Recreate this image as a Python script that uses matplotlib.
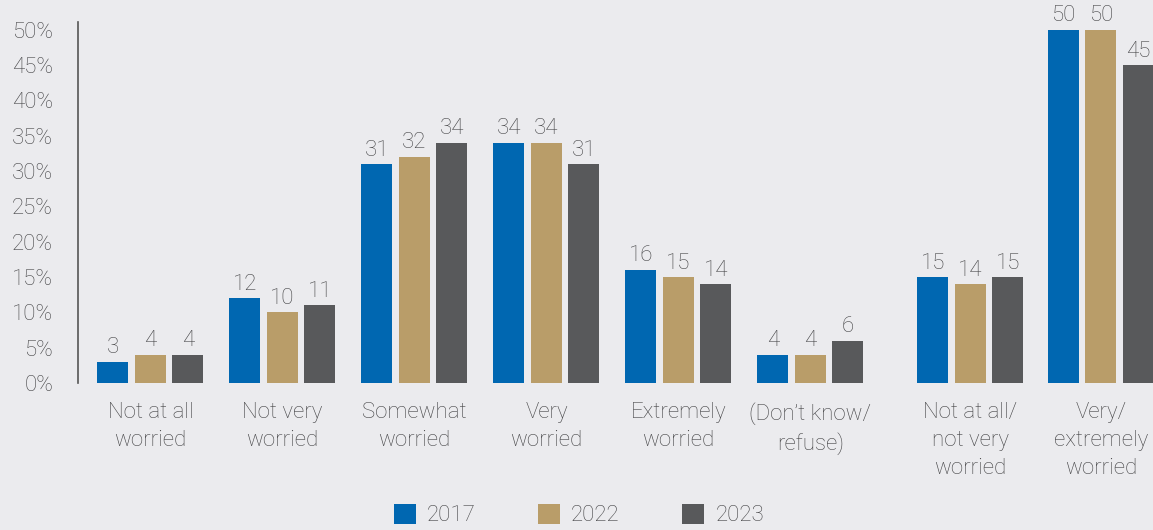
import matplotlib.pyplot as plt
import numpy as np

categories = [
    "Not at all\nworried",
    "Not very\nworried",
    "Somewhat\nworried",
    "Very\nworried",
    "Extremely\nworried",
    "(Don\u2019t know/\nrefuse)",
    "Not at all/\nnot very\nworried",
    "Very/\nextremely\nworried",
]
years = ["2017", "2022", "2023"]
vals_2017 = [3, 12, 31, 34, 16, 4, 15, 50]
vals_2022 = [4, 10, 32, 34, 15, 4, 14, 50]
vals_2023 = [4, 11, 34, 31, 14, 6, 15, 45]

COLORS = ["#0067b1", "#b99d69", "#58595b"]
BG = "#ebebee"
TEXT = "#444446"

plt.rcParams["font.family"] = ["Roboto", "DejaVu Sans"]
plt.rcParams["font.weight"] = "light"

# the two summary groups sit a little apart from the single answers
x = np.array([0, 1, 2, 3, 4, 5, 6.21, 7.2])
width = 0.235
step = 0.284

fig = plt.figure(figsize=(11.53, 5.30), dpi=100, facecolor=BG)
ax = fig.add_axes([78 / 1153, 0.2774, 1 - 78 / 1153, 0.9585 - 0.2774])
ax.set_facecolor(BG)

for i, (vals, col, yr) in enumerate(zip([vals_2017, vals_2022, vals_2023], COLORS, years)):
    bars = ax.bar(x + (i - 1) * step, vals, width, color=col, label=yr)
    ax.bar_label(bars, padding=2.5, fontsize=16, color=TEXT)

ax.set_xlim(-0.549, 7.595)
ax.set_ylim(0, 51.1)
ax.set_yticks(np.arange(0, 51, 5))
ax.set_yticklabels([f"{v}%" for v in range(0, 51, 5)])
ax.set_xticks(x)
ax.set_xticklabels(categories, linespacing=1.42)
ax.tick_params(axis="y", length=0, pad=18, labelsize=16, labelcolor=TEXT)
ax.tick_params(axis="x", length=0, pad=14, labelsize=16, labelcolor=TEXT)

for side in ["top", "right", "bottom"]:
    ax.spines[side].set_visible(False)
ax.spines["left"].set_color("#555555")
ax.spines["left"].set_linewidth(1.2)

fig.legend(
    loc="lower center", bbox_to_anchor=(0.502, -0.014), ncol=3, frameon=False,
    fontsize=16, labelcolor=TEXT, handlelength=1.0, handleheight=1.0,
    handletextpad=0.5, columnspacing=2.8, borderpad=0,
)

fig.savefig("out.png", dpi=100, facecolor=BG)
